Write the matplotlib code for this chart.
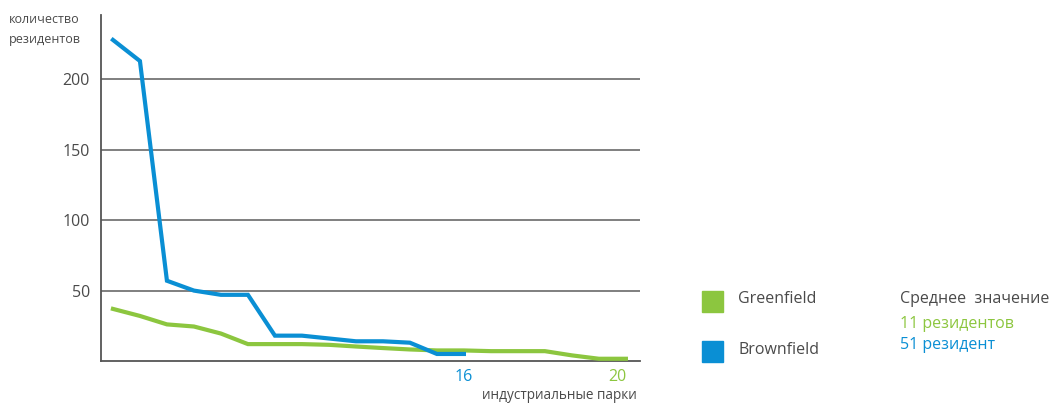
import numpy as np
import matplotlib
matplotlib.use("Agg")
import matplotlib.pyplot as plt

plt.rcParams['font.family'] = ['Open Sans', 'DejaVu Sans']

# residents per industrial park, sorted descending
brownfield = [228, 213, 57, 50, 47, 47, 18, 18, 16, 14, 14, 13, 5, 5]
greenfield = [37, 32, 26, 24.5, 19.5, 12, 12, 12, 11.5, 10.3, 9.2, 8.2, 7.5, 7.5,
              7, 7, 7, 4, 1.6, 1.6]
end_labels = ["16", "20"]
y_ticks = [50, 100, 150, 200]

blue = "#0a8fd4"
green = "#8cc63f"
grey = "#4a4a4a"

fig = plt.figure(figsize=(10.56, 4.03), dpi=100)
ax = fig.add_axes([0.0956, 0.1042, 0.5104, 0.8586])

xb = np.arange(1, len(brownfield) + 1)
xg = np.arange(1, len(greenfield) + 1)
ax.plot(xg, greenfield, color=green, lw=3, solid_joinstyle='miter', zorder=3)
ax.plot(xb, brownfield, color=blue, lw=3, solid_joinstyle='miter', zorder=4)

ax.set_xlim(0.556, 20.52)
ax.set_ylim(0, 245.7)
ax.set_yticks(y_ticks)
ax.set_yticklabels([str(v) for v in y_ticks], fontsize=11.5, color=grey)
ax.tick_params(axis='y', length=0, pad=8)
ax.set_xticks([])
for v in y_ticks:
    ax.axhline(v, color="#6a6a6a", lw=1.2, zorder=1)

for s in ['top', 'right']:
    ax.spines[s].set_visible(False)
ax.spines['left'].set_color("#555555")
ax.spines['bottom'].set_color("#555555")
ax.spines['left'].set_linewidth(1.3)
ax.spines['bottom'].set_linewidth(1.3)

# end labels under last points
ax.text(xb[-1], -6, end_labels[0], color=blue, fontsize=11.5, ha='center', va='top')
ax.text(xg[-1] - 0.3, -6, end_labels[1], color=green, fontsize=11.5, ha='center', va='top')

fig.text(0.603, 0.0, "индустриальные парки", fontsize=9.8, color=grey, ha='right', va='bottom')
fig.text(9 / 1056, 1 - 13 / 403, "количество\nрезидентов", fontsize=9, color=grey, ha='left', va='top',
         linespacing=1.7)

# legend
fig.patches.append(plt.Rectangle((702 / 1056, 1 - 312 / 403), 21 / 1056, 21 / 403,
                                 transform=fig.transFigure, color=green))
fig.patches.append(plt.Rectangle((702 / 1056, 1 - 362 / 403), 21 / 1056, 21 / 403,
                                 transform=fig.transFigure, color=blue))
fig.text(738 / 1056, 1 - 299 / 403, "Greenfield", fontsize=11.5, color=grey, va='center')
fig.text(738 / 1056, 1 - 350 / 403, "Brownfield", fontsize=11.5, color=grey, va='center')

fig.text(900 / 1056, 1 - 299 / 403, "Среднее  значение", fontsize=11.5, color=grey, va='center')
fig.text(900 / 1056, 1 - 324 / 403, "11 резидентов", fontsize=11.5, color=green, va='center')
fig.text(900 / 1056, 1 - 345 / 403, "51 резидент", fontsize=11.5, color=blue, va='center')

fig.savefig("out.png", dpi=100)
